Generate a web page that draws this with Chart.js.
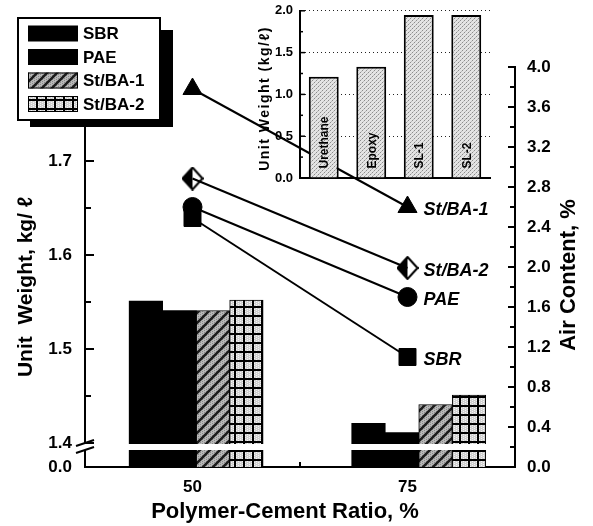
<!DOCTYPE html>
<html><head><meta charset="utf-8">
<script src="https://cdn.jsdelivr.net/npm/chart.js@4.4.1/dist/chart.umd.min.js"></script>
<style>
html,body{margin:0;padding:0;background:#fff;}
#wrap{position:relative;width:593px;height:526px;overflow:hidden;}
#main{position:absolute;left:0;top:0;width:593px;height:526px;}
#inset{position:absolute;left:240px;top:-4px;width:260px;height:200px;}
</style></head><body>
<div id="wrap"><canvas id="main" width="593" height="526"></canvas><canvas id="inset" width="260" height="200"></canvas></div>
<script>
const FONT = "'Liberation Sans', Arial, Helvetica, sans-serif";

// ---- data ----
const ratios = [50, 75];
const polymerTypes = ['SBR', 'PAE', 'St/BA-1', 'St/BA-2'];
const unitWeightSBR = [1.551, 1.421];
const unitWeightPAE = [1.541, 1.411];
const unitWeightStBA1 = [1.541, 1.441];
const unitWeightStBA2 = [1.552, 1.451];
const airContentSBR = [2.49, 1.10];
const airContentPAE = [2.60, 1.70];
const airContentStBA1 = [3.78, 2.60];
const airContentStBA2 = [2.885, 1.99];
const unitWeightTickValues = [0, 1.4, 1.45, 1.5, 1.55, 1.6, 1.65, 1.7, 1.75, 1.8];
const unitWeightTickLabels = ['0.0', '1.4', '', '1.5', '', '1.6', '', '1.7', '', ''];
const airContentTickValues = [0, 0.2, 0.4, 0.6, 0.8, 1.0, 1.2, 1.4, 1.6, 1.8, 2.0, 2.2, 2.4, 2.6, 2.8, 3.0, 3.2, 3.4, 3.6, 3.8, 4.0];
const airContentTickLabels = ['0.0', '', '0.4', '', '0.8', '', '1.2', '', '1.6', '', '2.0', '', '2.4', '', '2.8', '', '3.2', '', '3.6', '', '4.0'];
const insetMaterials = ['Urethane', 'Epoxy', 'SL-1', 'SL-2'];
const insetUnitWeight = [1.21, 1.33, 1.95, 1.95];
const insetTickValues = [0, 0.25, 0.5, 0.75, 1.0, 1.25, 1.5, 1.75, 2.0];
const insetTickLabels = ['0.0', '', '0.5', '', '1.0', '', '1.5', '', '2.0'];
const WEIGHT_BREAK = 1.4;

// ---- patterns ----
function tile(w, h, draw) { const c = document.createElement('canvas'); c.width = w; c.height = h; draw(c.getContext('2d'), w, h); return c; }
const pctx = document.createElement('canvas').getContext('2d');
const hatchPattern = pctx.createPattern(tile(10, 10, (g, w, h) => {
  g.fillStyle = '#b8b8b8'; g.fillRect(0, 0, w, h);
  g.fillStyle = '#8a8a8a';
  for (let i = 0; i < w; i += 2) for (let j = (i / 2) % 2; j < h; j += 2) g.fillRect(i, j, 1, 1);
  g.strokeStyle = '#1c1c1c'; g.lineWidth = 2.6; g.beginPath();
  for (let k = -1; k <= 1; k++) { g.moveTo(-2 + k * w, h + 2); g.lineTo(w + 2 + k * w, -2); }
  g.stroke();
}), 'repeat');
const gridPattern = pctx.createPattern(tile(9, 9, (g, w, h) => {
  g.fillStyle = '#d0d0d0'; g.fillRect(0, 0, w, h);
  g.fillStyle = '#f4f4f4';
  for (let i = 2; i < w; i += 2) for (let j = 2 + (i / 2) % 2; j < h; j += 2) g.fillRect(i, j, 1, 1);
  g.fillStyle = '#000'; g.fillRect(0, 0, w, 2); g.fillRect(0, 0, 2, h);
}), 'repeat');
const stipplePattern = pctx.createPattern(tile(4, 4, (g, w, h) => {
  g.fillStyle = '#e4e4e4'; g.fillRect(0, 0, w, h);
  g.fillStyle = '#8c8c8c'; g.fillRect(0, 0, 1, 1); g.fillRect(2, 2, 1, 1);
  g.fillStyle = '#bcbcbc'; g.fillRect(3, 1, 1, 1); g.fillRect(1, 3, 1, 1);
}), 'repeat');
const diamondImg = tile(22, 24, (g) => {
  g.beginPath(); g.moveTo(11, 1); g.lineTo(11, 23); g.lineTo(1, 12); g.closePath(); g.fillStyle = '#000'; g.fill();
  g.beginPath(); g.moveTo(11, 1); g.lineTo(21, 12); g.lineTo(11, 23); g.lineTo(1, 12); g.closePath();
  g.strokeStyle = '#000'; g.lineWidth = 2; g.stroke();
});

// ---- broken (discontinuous) linear scale ----
class BrokenLinearScale extends Chart.LinearScale {
  determineDataLimits() { this.min = this.options.min; this.max = this.options.max; }
  buildTicks() { this.start = this.min; this.end = this.max; return unitWeightTickValues.map(v => ({ value: v })); }
  getPixelForValue(v) {
    if (v === null || v === undefined || isNaN(v)) return NaN;
    const low = 24, b = this.bottom, t = this.top;
    if (v <= WEIGHT_BREAK) return b - (v / WEIGHT_BREAK) * low;
    return (b - low) - (v - WEIGHT_BREAK) / (this.max - WEIGHT_BREAK) * (b - low - t);
  }
  getValueForPixel(p) {
    const low = 24, b = this.bottom, t = this.top;
    if (p >= b - low) return (b - p) / low * WEIGHT_BREAK;
    return WEIGHT_BREAK + (b - low - p) / (b - low - t) * (this.max - WEIGHT_BREAK);
  }
}
BrokenLinearScale.id = 'brokenLinear';
BrokenLinearScale.defaults = {};
Chart.register(BrokenLinearScale);

function line(ctx, x1, y1, x2, y2) { ctx.beginPath(); ctx.moveTo(x1, y1); ctx.lineTo(x2, y2); ctx.stroke(); }

const mainDecor = {
  id: 'mainDecor',
  afterDatasetsDraw(chart) {
    const { ctx, chartArea: ca, scales } = chart;
    const yW = scales.yW, yA = scales.yAir, x = scales.x;
    ctx.save();
    const p = yW.getPixelForValue(WEIGHT_BREAK);
    ctx.fillStyle = '#fff';
    ctx.fillRect(ca.left - 4, p + 1, (ca.right - 2) - (ca.left - 4), 6);
    ctx.strokeStyle = '#000'; ctx.lineWidth = 2;
    yW.ticks.forEach((t, i) => {
      if (t.value === 0) return;
      const y = yW.getPixelForValue(t.value);
      line(ctx, ca.left, y, ca.left + (unitWeightTickLabels[i] ? 9 : 6), y);
    });
    yA.ticks.forEach((t, i) => {
      if (t.value === 0) return;
      const y = yA.getPixelForValue(t.value);
      line(ctx, ca.right, y, ca.right - (airContentTickLabels[i] ? 7 : 5), y);
    });
    const xm = (x.getPixelForValue(0) + x.getPixelForValue(1)) / 2;
    line(ctx, xm, ca.bottom, xm, ca.bottom - 5);
    // axis break marks
    line(ctx, ca.left - 9, p + 3, ca.left + 9, p - 3);
    line(ctx, ca.left - 9, p + 10, ca.left + 9, p + 4);
    ctx.restore();
  },
  afterDraw(chart) {
    const { ctx } = chart;
    ctx.save();
    ctx.fillStyle = '#000';
    ctx.font = 'italic bold 18px ' + FONT;
    ctx.textBaseline = 'middle'; ctx.textAlign = 'left';
    chart.data.datasets.forEach((ds, i) => {
      if (ds.type !== 'line') return;
      const pts = chart.getDatasetMeta(i).data;
      const el = pts[pts.length - 1];
      ctx.fillText(ds.label, el.x + 16, el.y + 3);
    });
    ctx.font = 'bold 21px ' + FONT; ctx.textAlign = 'center';
    ctx.save(); ctx.translate(26, 287); ctx.rotate(-Math.PI / 2); ctx.fillText('Unit  Weight, kg/ \u2113', 0, 0); ctx.restore();
    ctx.font = 'bold 22px ' + FONT;
    ctx.save(); ctx.translate(569, 275); ctx.rotate(-Math.PI / 2); ctx.fillText('Air Content, %', 0, 0); ctx.restore();
    ctx.fillText('Polymer-Cement Ratio, %', 285, 512);
    // legend box with shadow
    ctx.fillStyle = '#000'; ctx.fillRect(30, 30, 143, 97);
    ctx.fillStyle = '#fff'; ctx.fillRect(18, 18, 142, 102);
    ctx.strokeStyle = '#000'; ctx.lineWidth = 2; ctx.strokeRect(18, 18, 142, 102);
    const rows = [33.5, 57, 80.5, 104];
    const bars = chart.data.datasets.filter(d => d.type === 'bar');
    ctx.font = 'bold 17px ' + FONT; ctx.textAlign = 'left';
    bars.forEach((ds, i) => {
      ctx.fillStyle = ds.backgroundColor; ctx.fillRect(28, rows[i] - 8, 50, 16);
      if (ds.borderWidth) { ctx.strokeStyle = '#000'; ctx.lineWidth = 1; ctx.strokeRect(28.5, rows[i] - 7.5, 49, 15); }
      ctx.fillStyle = '#000'; ctx.fillText(ds.label, 83, rows[i] + 1);
    });
    ctx.restore();
  }
};

const barData = arr => arr.map((v, i) => ({ x: ratios[i], y: v }));
const lineBase = { type: 'line', xAxisID: 'x', yAxisID: 'yAir', borderColor: '#000', borderWidth: 2, tension: 0,
  pointBackgroundColor: '#000', pointBorderColor: '#000', pointBorderWidth: 1 };
const barBase = { type: 'bar', xAxisID: 'xb', yAxisID: 'yW', barThickness: 33.5, borderColor: '#000', borderSkipped: 'start' };

new Chart(document.getElementById('main'), {
  type: 'bar',
  data: {
    labels: ratios.map(String),
    datasets: [
      Object.assign({}, lineBase, { label: 'St/BA-1', data: airContentStBA1, pointStyle: 'triangle', pointRadius: 11 }),
      Object.assign({}, lineBase, { label: 'St/BA-2', data: airContentStBA2, pointStyle: diamondImg, pointRadius: 11 }),
      Object.assign({}, lineBase, { label: 'PAE', data: airContentPAE, pointStyle: 'circle', pointRadius: 9.5 }),
      Object.assign({}, lineBase, { label: 'SBR', data: airContentSBR, pointStyle: 'rect', pointRadius: 12 }),
      Object.assign({}, barBase, { label: polymerTypes[0], data: barData(unitWeightSBR), backgroundColor: '#000', borderWidth: 0 }),
      Object.assign({}, barBase, { label: polymerTypes[1], data: barData(unitWeightPAE), backgroundColor: '#000', borderWidth: 0 }),
      Object.assign({}, barBase, { label: polymerTypes[2], data: barData(unitWeightStBA1), backgroundColor: hatchPattern, borderWidth: 1 }),
      Object.assign({}, barBase, { label: polymerTypes[3], data: barData(unitWeightStBA2), backgroundColor: gridPattern, borderWidth: 1 })
    ]
  },
  options: {
    responsive: false, animation: false, events: [],
    layout: { padding: { top: 67, left: 0, right: 0, bottom: 0 } },
    plugins: { legend: { display: false }, tooltip: { enabled: false } },
    scales: {
      x: { type: 'category', position: 'bottom', offset: true, weight: 1,
        grid: { display: false, drawTicks: false, offset: true },
        border: { display: true, color: '#000', width: 2 },
        ticks: { color: '#000', font: { family: FONT, weight: 'bold', size: 17 }, padding: 10 },
        afterFit: s => { s.height = 59; } },
      xb: { type: 'linear', position: 'bottom', display: true, offset: false, min: 33.75, max: 82.05, weight: 0,
        ticks: { display: false }, grid: { display: false, drawTicks: false }, border: { display: false },
        afterFit: s => { s.height = 0; } },
      yW: { type: 'brokenLinear', position: 'left', min: 0, max: 1.8,
        grid: { display: false, drawTicks: false },
        border: { display: true, color: '#000', width: 2 },
        ticks: { autoSkip: false, color: '#000', font: { family: FONT, weight: 'bold', size: 17 }, padding: 13,
          callback: (v, i) => unitWeightTickLabels[i] },
        afterFit: s => { s.width = 85; } },
      yAir: { type: 'linear', position: 'right', min: 0, max: 4,
        afterBuildTicks: s => { s.ticks = airContentTickValues.map(v => ({ value: v })); },
        grid: { display: false, drawTicks: false },
        border: { display: true, color: '#000', width: 2 },
        ticks: { autoSkip: false, color: '#000', font: { family: FONT, weight: 'bold', size: 17 }, padding: 12,
          callback: (v, i) => airContentTickLabels[i] },
        afterFit: s => { s.width = 78; } }
    }
  },
  plugins: [mainDecor]
});

const insetDecor = {
  id: 'insetDecor',
  afterDatasetsDraw(chart) {
    const { ctx, chartArea: ca, scales } = chart;
    const y = scales.y;
    ctx.save();
    ctx.strokeStyle = '#000'; ctx.lineWidth = 1.5;
    y.ticks.forEach((t, i) => {
      if (t.value === 0) return;
      const py = y.getPixelForValue(t.value);
      line(ctx, ca.left, py, ca.left + (insetTickLabels[i] ? 5 : 3), py);
    });
    ctx.fillStyle = '#000'; ctx.font = 'bold 12px ' + FONT;
    ctx.textAlign = 'left'; ctx.textBaseline = 'middle';
    chart.getDatasetMeta(0).data.forEach((el, i) => {
      ctx.save(); ctx.translate(el.x + 1, el.base - 9); ctx.rotate(-Math.PI / 2);
      ctx.fillText(chart.data.labels[i], 0, 0); ctx.restore();
    });
    ctx.font = 'bold 14px ' + FONT; ctx.textAlign = 'center';
    if ('letterSpacing' in ctx) ctx.letterSpacing = '1.5px';
    ctx.save(); ctx.translate(ca.left - 35, (ca.top + ca.bottom) / 2 + 4); ctx.rotate(-Math.PI / 2);
    ctx.fillText('Unit Weight (kg/\u2113)', 0, 0); ctx.restore();
    ctx.restore();
  }
};

new Chart(document.getElementById('inset'), {
  type: 'bar',
  data: { labels: insetMaterials, datasets: [{ label: 'Unit Weight', data: insetUnitWeight, backgroundColor: stipplePattern,
    borderColor: '#000', borderWidth: 2, categoryPercentage: 1, barPercentage: 0.63 }] },
  options: {
    responsive: false, animation: false, events: [],
    layout: { padding: { top: 10, right: 10, left: 0, bottom: 0 } },
    plugins: { legend: { display: false }, tooltip: { enabled: false } },
    scales: {
      x: { ticks: { display: false }, grid: { display: false, drawTicks: false },
        border: { display: true, color: '#000', width: 2 }, afterFit: s => { s.height = 18; } },
      y: { min: 0, max: 2,
        afterBuildTicks: s => { s.ticks = insetTickValues.map(v => ({ value: v })); },
        ticks: { autoSkip: false, color: '#000', font: { family: FONT, weight: 'bold', size: 13 }, padding: 7,
          callback: (v, i) => insetTickLabels[i] },
        grid: { drawTicks: false, lineWidth: 1,
          color: c => (c.tick && c.tick.value > 0 && insetTickLabels[c.index]) ? '#222' : 'rgba(0,0,0,0)' },
        border: { display: true, color: '#000', width: 2, dash: [1, 3] },
        afterFit: s => { s.width = 60; } }
    }
  },
  plugins: [insetDecor]
});
</script></body></html>
